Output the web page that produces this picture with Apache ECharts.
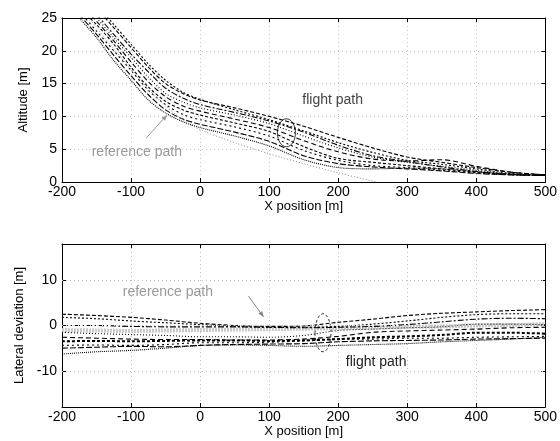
<!DOCTYPE html>
<html>
<head>
<meta charset="utf-8">
<script src="https://cdn.jsdelivr.net/npm/echarts@6/dist/echarts.min.js"></script>
<style>
  html, body { margin: 0; padding: 0; background: #fff; }
  #chart { width: 560px; height: 441px; }
</style>
</head>
<body>
<div id="chart"></div>
<script>
// x positions shared by the altitude traces
const xTop = [-175, -150, -125, -100, -75, -50, -25, 0, 50, 100, 150, 200, 250, 300, 350, 400, 450, 500];

// altitude of each flight (m)
const alt1 = [29, 26.5, 23.5, 20.5, 17.5, 15, 13.5, 12.5, 11.3, 10, 8.5, 6.8, 5.2, 3.8, 3.0, 2.2, 1.5, 1.1];
const alt2 = [29.5, 27, 24, 21, 18, 15.5, 13.7, 12.6, 11, 9.5, 7.8, 6, 4.5, 3.3, 2.7, 2.0, 1.3, 1.0];
const alt3 = [28, 25.5, 22.5, 19.5, 16.8, 14.3, 12.8, 11.8, 10.6, 9.3, 7.6, 5.6, 4.0, 3.1, 2.3, 1.6, 1.1, 1.0];
const alt4 = [27.5, 25, 22, 19, 16, 13.5, 12.2, 11.3, 10.2, 8.9, 7.0, 5.2, 3.8, 3.0, 2.4, 1.8, 1.2, 1.0];
const alt5 = [27, 24.5, 21.5, 18.3, 15.3, 13, 11.6, 10.8, 9.6, 8.3, 6.3, 4.6, 3.5, 3.2, 3.4, 2.4, 1.5, 1.1];
const alt6 = [26.5, 24, 21, 17.5, 14.5, 12.3, 11, 10.2, 9, 7.7, 5.4, 3.6, 3.0, 2.5, 2.0, 1.5, 1.2, 1.0];
const alt7 = [26, 23, 20, 17, 14, 11.8, 10.3, 9.5, 8.4, 7, 4.8, 3.3, 2.5, 2.2, 1.8, 1.4, 1.1, 1.0];
const alt8 = [25.5, 22.5, 19.3, 16.2, 13.3, 11, 9.6, 8.8, 7.6, 6.2, 4.0, 2.8, 2.3, 2.0, 1.7, 1.3, 1.1, 1.0];
const alt9 = [25, 22, 18.5, 15.5, 12.5, 10.5, 9.2, 8.3, 7.0, 5.5, 3.4, 2.2, 2.0, 2.1, 2.0, 1.6, 1.2, 1.0];

// reference altitude path
const refTopX = [-175, -150, -125, -100, -75, -50, -25, 0, 50, 100, 150, 200, 255];
const refTopAlt = [27, 23.5, 20.3, 17.2, 14.2, 11.6, 9.5, 8.0, 6.0, 4.3, 2.8, 1.4, 0];

// x positions shared by the lateral traces
const xBot = [-200, -150, -100, -50, 0, 50, 100, 150, 200, 250, 300, 350, 400, 450, 500];

// lateral deviation of each flight (m)
const lat1 = [2.5, 2.2, 1.8, 1.2, 0.5, 0.0, -0.2, -0.1, 0.7, 1.4, 2.2, 2.7, 3.0, 3.3, 3.5];
const lat2 = [1.8, 1.5, 1.0, 0.6, 0.2, -0.2, -0.4, -0.4, -0.2, 0.3, 1.0, 1.8, 2.4, 2.6, 2.6];
const lat3 = [0.0, 0.0, -0.2, -0.3, -0.3, -0.3, -0.4, -0.5, -0.4, -0.2, 0.2, 0.8, 1.4, 1.6, 1.5];
const lat4 = [-1.5, -1.8, -2.0, -2.2, -2.5, -2.5, -2.6, -2.2, -1.1, -0.8, -0.5, -0.3, 0.3, 0.3, 0.2];
const lat5 = [-2.6, -2.8, -3.0, -3.1, -3.1, -3.2, -3.2, -3.0, -2.4, -1.5, -1.2, -1.0, -0.8, -0.5, -0.4];
const lat6 = [-3.5, -3.4, -3.5, -3.4, -3.3, -3.3, -3.4, -3.3, -3.0, -2.6, -2.4, -2.1, -1.6, -1.6, -1.8];
const lat7 = [-4.4, -4.3, -4.4, -4.2, -3.8, -3.8, -3.7, -3.4, -3.0, -3.0, -2.8, -2.8, -2.6, -2.5, -2.4];
const lat8 = [-5.0, -4.8, -4.6, -4.7, -4.4, -4.2, -4.1, -4.0, -3.6, -3.4, -3.3, -3.2, -3.0, -2.9, -2.8];
const lat9 = [-6.3, -5.8, -5.5, -5.0, -4.4, -4.3, -4.4, -4.6, -4.4, -4.2, -4.0, -3.6, -3.3, -3.0, -2.6];

// reference lateral path
const refBotLat = [-1.0, -1.1, -1.2, -1.1, -1.0, -0.9, -0.8, -0.7, -0.6, -0.5, -0.3, -0.2, 0.0, 0.1, 0.3];

const latTicks = [-10, 0, 10];

const topFlights = [alt1, alt2, alt3, alt4, alt5, alt6, alt7, alt8, alt9];
const botFlights = [lat1, lat2, lat3, lat4, lat5, lat6, lat7, lat8, lat9];
const dashes = [[4, 2], [2, 2], [6, 2, 2, 2], [1, 2], [5, 3], [3, 2], [2, 3], [6, 2], [1, 1]];

const font = "Liberation Sans, Arial, sans-serif";
const gridLine = { show: true, lineStyle: { color: "#c4c4c4", type: [1, 3], width: 1 } };
const black = { color: "#000", width: 1 };

function xAxisPair(gridIndex) {
  return [
    {
      type: "value", gridIndex, min: -200, max: 500, interval: 100,
      name: "X position [m]", nameLocation: "middle", nameGap: 17,
      nameTextStyle: { fontFamily: font, fontSize: 13, color: "#000" },
      axisLine: { show: true, lineStyle: black, onZero: false },
      axisTick: { show: true, inside: true, length: 4, lineStyle: black },
      axisLabel: { fontFamily: font, fontSize: 14, color: "#000", margin: 3 },
      splitLine: gridLine,
    },
    {
      type: "value", gridIndex, position: "top", min: -200, max: 500, interval: 100,
      axisLine: { show: true, lineStyle: black, onZero: false },
      axisTick: { show: true, inside: true, length: 4, lineStyle: black },
      axisLabel: { show: false }, splitLine: { show: false },
    },
  ];
}

const option = {
  animation: false,
  backgroundColor: "#fff",
  grid: [
    { left: 62, right: 11, top: 18, height: 164 },
    { left: 62, right: 11, top: 244, height: 163 },
  ],
  xAxis: [...xAxisPair(0), ...xAxisPair(1)],
  yAxis: [
    {
      type: "value", gridIndex: 0, min: 0, max: 25, interval: 5,
      name: "Altitude [m]", nameLocation: "middle", nameGap: 32,
      nameTextStyle: { fontFamily: font, fontSize: 13, color: "#000" },
      axisLine: { show: true, lineStyle: black, onZero: false },
      axisTick: { show: true, inside: true, length: 4, lineStyle: black },
      axisLabel: { fontFamily: font, fontSize: 14, color: "#000", margin: 5 },
      splitLine: gridLine,
    },
    {
      type: "value", gridIndex: 0, position: "right", min: 0, max: 25, interval: 5,
      axisLine: { show: true, lineStyle: black, onZero: false },
      axisTick: { show: true, inside: true, length: 4, lineStyle: black },
      axisLabel: { show: false }, splitLine: { show: false },
    },
    {
      type: "value", gridIndex: 1, min: -18, max: 18,
      name: "Lateral deviation [m]", nameLocation: "middle", nameGap: 32,
      nameTextStyle: { fontFamily: font, fontSize: 13, color: "#000" },
      axisLine: { show: true, lineStyle: black, onZero: false },
      axisTick: { show: true, inside: true, length: 4, lineStyle: black, customValues: latTicks },
      axisLabel: { fontFamily: font, fontSize: 14, color: "#000", margin: 5, customValues: latTicks },
      splitLine: { show: false },
    },
    {
      type: "value", gridIndex: 1, position: "right", min: -18, max: 18,
      axisLine: { show: true, lineStyle: black, onZero: false },
      axisTick: { show: true, inside: true, length: 4, lineStyle: black, customValues: latTicks },
      axisLabel: { show: false }, splitLine: { show: false },
    },
  ],
  series: [],
};

topFlights.forEach((alt, i) => {
  option.series.push({
    type: "line", xAxisIndex: 0, yAxisIndex: 0, smooth: 0.3, symbol: "none",
    data: xTop.map((x, k) => [x, alt[k]]),
    lineStyle: { color: "#000", width: 1.1, type: dashes[i] },
  });
});
option.series.push({
  type: "line", xAxisIndex: 0, yAxisIndex: 0, smooth: 0.3, symbol: "none",
  data: refTopX.map((x, k) => [x, refTopAlt[k]]),
  lineStyle: { color: "#888", width: 1, type: [1, 2] },
});

// reference lateral path as a wide grey band, with the horizontal grid lines
option.series.push({
  type: "line", xAxisIndex: 2, yAxisIndex: 2, smooth: 0.3, symbol: "none",
  data: xBot.map((x, k) => [x, refBotLat[k]]),
  lineStyle: { color: "#c8c8c8", width: 4, type: [2, 1] },
  markLine: {
    silent: true, symbol: "none", label: { show: false },
    lineStyle: { color: "#c4c4c4", type: [1, 3], width: 1 },
    data: latTicks.map((v) => ({ yAxis: v })),
  },
});
botFlights.forEach((lat, i) => {
  option.series.push({
    type: "line", xAxisIndex: 2, yAxisIndex: 2, smooth: 0.3, symbol: "none",
    data: xBot.map((x, k) => [x, lat[k]]),
    lineStyle: { color: "#000", width: i === 5 ? 2 : 1.1, type: dashes[i] },
  });
});

const myChart = echarts.init(document.getElementById("chart"), null, { renderer: "canvas" });
myChart.setOption(option);

// annotations placed in data coordinates
const p0 = (x, y) => myChart.convertToPixel({ gridIndex: 0 }, [x, y]);
const p1 = (x, y) => myChart.convertToPixel({ gridIndex: 1 }, [x, y]);
const txt = (pt, s, color) => ({
  type: "text", x: pt[0], y: pt[1],
  style: { text: s, fill: color, font: "14px " + font, textVerticalAlign: "middle" },
});
const arrow = (a, b, color) => {
  const ang = Math.atan2(b[1] - a[1], b[0] - a[0]);
  const h = 6;
  return [
    { type: "line", shape: { x1: a[0], y1: a[1], x2: b[0], y2: b[1] }, style: { stroke: color, lineWidth: 1 } },
    {
      type: "polygon",
      shape: { points: [b, [b[0] - h * Math.cos(ang - 0.4), b[1] - h * Math.sin(ang - 0.4)], [b[0] - h * Math.cos(ang + 0.4), b[1] - h * Math.sin(ang + 0.4)]] },
      style: { fill: color },
    },
  ];
};

const ellTop = p0(125, 7.5);
const ellBot = p1(178, -1.6);
myChart.setOption({
  graphic: [
    txt(p0(148, 12.5), "flight path", "#444"),
    txt(p0(-157, 4.6), "reference path", "#999"),
    ...arrow(p0(-78, 6.7), p0(-48, 10.2), "#999"),
    {
      type: "ellipse", shape: { cx: ellTop[0], cy: ellTop[1], rx: 9, ry: 14 },
      style: { fill: null, stroke: "#333", lineWidth: 1 },
    },
    txt(p1(-112, 7.4), "reference path", "#999"),
    ...arrow(p1(70, 6.5), p1(92, 1.9), "#888"),
    txt(p1(211, -8.2), "flight path", "#222"),
    {
      type: "ellipse", shape: { cx: ellBot[0], cy: ellBot[1], rx: 8, ry: 19 },
      style: { fill: null, stroke: "#333", lineWidth: 1, lineDash: [3, 2] },
    },
  ],
});
</script>
</body>
</html>
